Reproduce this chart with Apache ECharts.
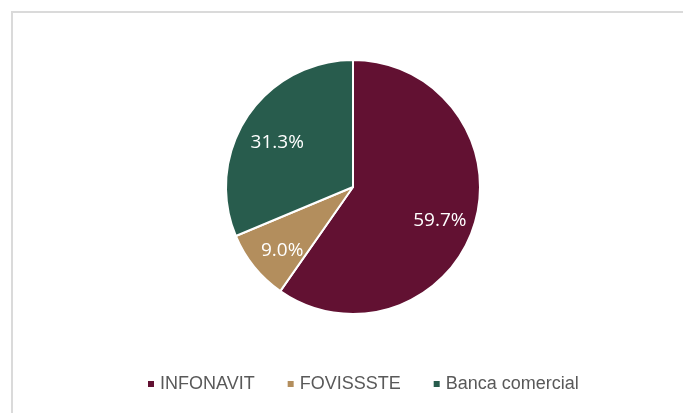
<!DOCTYPE html>
<html>
<head>
<meta charset="utf-8">
<script src="https://cdn.jsdelivr.net/npm/echarts@6/dist/echarts.min.js"></script>
<style>
  html, body { margin: 0; padding: 0; background: #fff; }
  #chart { width: 683px; height: 413px; }
</style>
</head>
<body>
<div id="chart"></div>
<script>
// 数据
const categories = ['INFONAVIT', 'FOVISSSTE', 'Banca comercial']
const shares = [59.7, 9.0, 31.3]
const colors = ['#621132', '#B38E5D', '#285C4D']

const pieData = categories.map((name, i) => ({
  name,
  value: shares[i],
  itemStyle: { color: colors[i] }
}))

const chart = echarts.init(document.getElementById('chart'), null, { renderer: 'canvas' })

const option = {
  backgroundColor: '#fff',
  animation: false,
  graphic: [
    {
      type: 'rect',
      shape: { x: 12, y: 12, width: 700, height: 500 },
      style: { fill: 'none', stroke: '#dadada', lineWidth: 2 },
      silent: true
    }
  ],
  legend: {
    data: categories,
    bottom: 15,
    left: 141,
    icon: 'rect',
    itemWidth: 8,
    itemHeight: 8,
    itemGap: 31,
    textStyle: {
      color: '#595959',
      fontSize: 18,
      fontFamily: 'Liberation Sans, Arial, sans-serif'
    }
  },
  series: [
    {
      // 扇区
      type: 'pie',
      center: [353, 187],
      radius: [0, 127],
      startAngle: 90,
      clockwise: true,
      label: { show: false },
      labelLine: { show: false },
      itemStyle: { borderColor: '#fff', borderWidth: 2 },
      data: pieData
    },
    {
      // 标签层 (透明)
      type: 'pie',
      center: [353, 187],
      radius: [0, 176],
      startAngle: 90,
      clockwise: true,
      silent: true,
      z: 5,
      itemStyle: { color: 'rgba(0,0,0,0)', borderWidth: 0 },
      label: {
        show: true,
        position: 'inside',
        color: '#fff',
        fontSize: 19,
        offset: [0, 6],
        fontFamily: 'Open Sans, sans-serif',
        formatter: (p) => p.value.toFixed(1) + '%'
      },
      labelLine: { show: false },
      data: categories.map((name, i) => ({ name, value: shares[i] }))
    }
  ]
}

chart.setOption(option)
</script>
</body>
</html>
